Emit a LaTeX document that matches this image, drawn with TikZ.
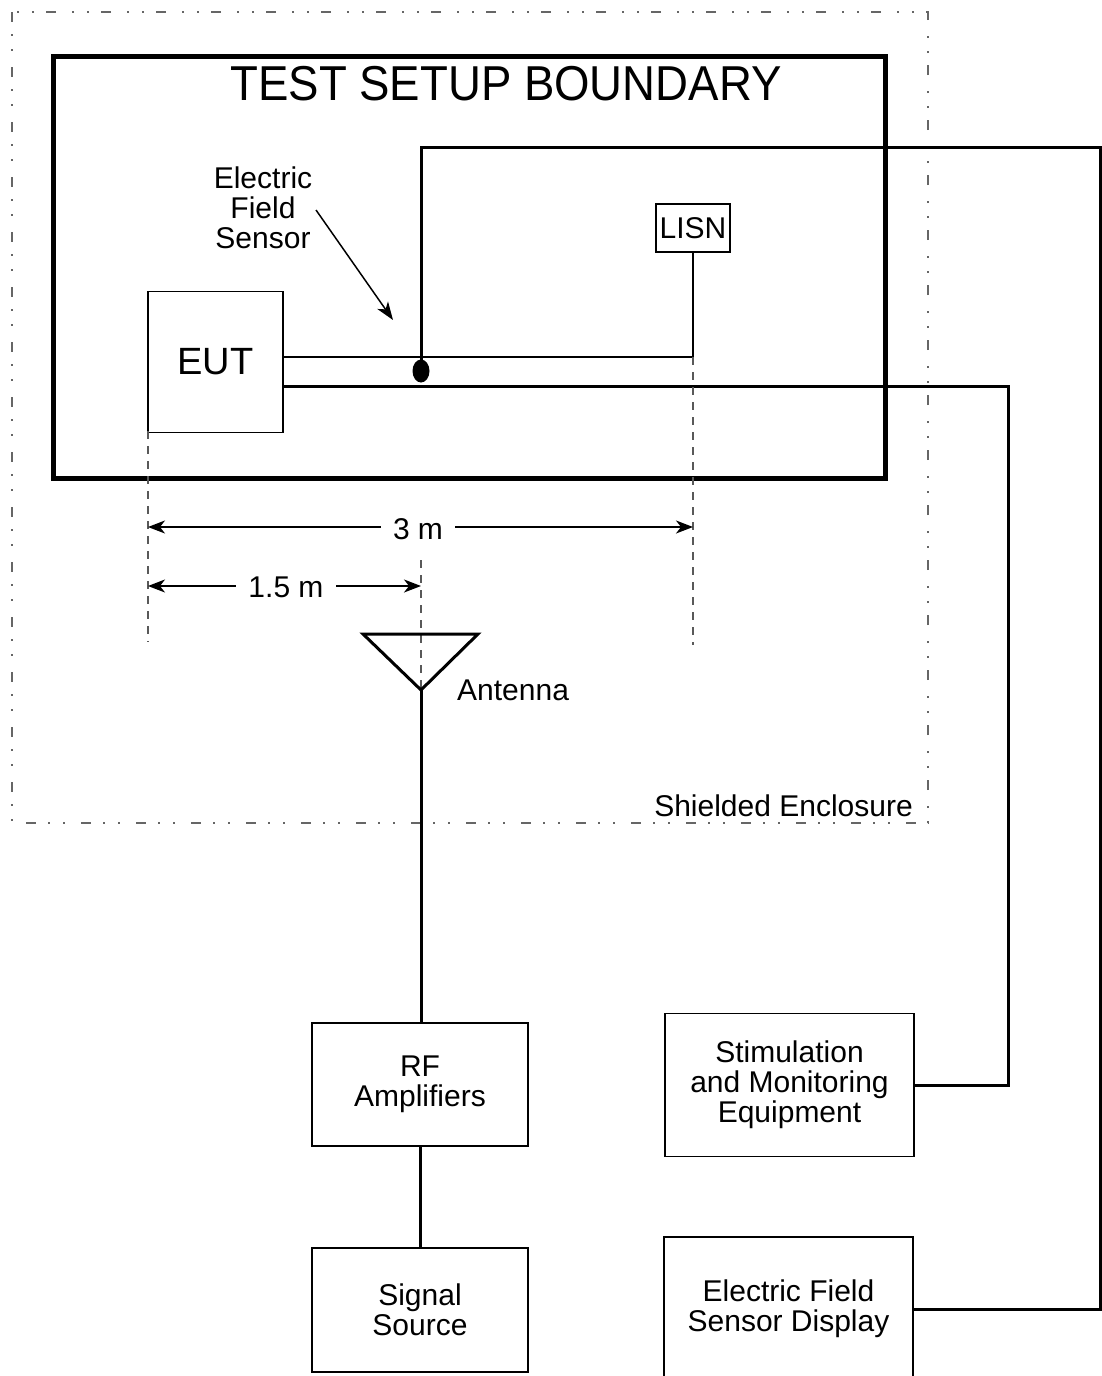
\documentclass[tikz,border=0pt]{standalone}
\usepackage{fontspec}
\setmainfont{Liberation Sans}
\usetikzlibrary{arrows.meta,shapes.geometric}
\begin{document}
\begin{tikzpicture}[x=1pt,y=-1pt,
  txt/.style={font=\fontsize{30}{30}\selectfont, align=center, inner sep=0pt},
  box/.style={txt, draw, line width=1.5pt, minimum width=#1, inner sep=0pt},
  cable/.style={line width=3pt},
  thincable/.style={line width=2pt},
  guide/.style={draw=black!65, line width=1.5pt, dash pattern=on 8pt off 7pt},
  dim/.style={line width=1.3pt, {Stealth[length=17pt,width=13pt,inset=5pt]}-{Stealth[length=17pt,width=13pt,inset=5pt]}},
  dimlbl/.style={txt, fill=white, inner xsep=12pt, inner ysep=3pt}
]
\useasboundingbox (0,0) rectangle (1101,1376);
% shielded enclosure
\draw[black!60, line width=1.5pt, dash pattern=on 10pt off 12pt on 2pt off 13pt on 2pt off 16pt] (12,12) rectangle (928,823);
\node[txt, anchor=base east] (encl) at (913,816) {Shielded Enclosure};
% test setup boundary
\draw[line width=5pt] (53,56) rectangle (885,478);
\node[inner sep=0pt, anchor=base, font=\fontsize{49}{49}\selectfont] (title) at (506,100) {\scalebox{0.93}[1]{TEST SETUP BOUNDARY}};
% boxes
\node[box=135pt, minimum height=141pt, font=\fontsize{38}{38}\selectfont] (EUT) at (215.5,362) {EUT};
\node[box=74pt, minimum height=48pt, line width=1.3pt] (LISN) at (693,228) {LISN};
\node[box=216pt, minimum height=123pt] (RF) at (420,1084.5) {RF\\Amplifiers};
\node[box=216pt, minimum height=124pt] (Sig) at (420,1310) {Signal\\Source};
\node[box=249pt, minimum height=143pt] (Stim) at (789.5,1085) {Stimulation\\and Monitoring\\Equipment};
\node[box=249pt, minimum height=144pt] (Disp) at (788.5,1309) {Electric Field\\Sensor Display};
% sensor
\node[ellipse, fill=black, minimum width=17pt, minimum height=23pt, inner sep=0pt] (sensor) at (421,371) {};
\node[txt] (sensorlbl) at (263,208) {Electric\\Field\\Sensor};
\coordinate (arrS) at (316,210);
\coordinate (arrE) at (393,320);
\draw[line width=1.5pt, -{Stealth[length=18pt,width=13pt,inset=5pt]}] (arrS) -- (arrE);
% cables
\coordinate (j1) at (693,357);
\draw[thincable] (EUT.east |- j1) -- (j1) -- (LISN.south);
\coordinate (c1) at (1008,386);
\draw[cable] (EUT.east |- c1) -- (c1) |- (Stim.east);
\coordinate (c2) at (1100,147);
\draw[cable] (sensor.center) |- (c2) |- (Disp.east);
% guides
\coordinate (g1a) at (148,431); \coordinate (g1b) at (148,642);
\coordinate (g2a) at (693,357); \coordinate (g2b) at (693,645);
\coordinate (g3a) at (421,560); \coordinate (g3b) at (421,690);
\draw[guide] (g1a) -- (g1b);
\draw[guide] (g2a) -- (g2b);
\draw[guide] (g3a) -- (g3b);
% dimensions
\coordinate (d1a) at (148,527); \coordinate (d1b) at (693,527);
\draw[dim] (d1a) -- (d1b);
\node[dimlbl] (d1) at (418,529) {3 m};
\coordinate (d2a) at (148,586); \coordinate (d2b) at (421,586);
\draw[dim] (d2a) -- (d2b);
\node[dimlbl] (d2) at (286,587) {1.5 m};
% antenna
\coordinate (antL) at (363,634);
\coordinate (antR) at (478,634);
\coordinate (ant) at (421,690);
\draw[line width=3pt, line join=miter] (antL) -- (antR) -- (ant) -- cycle;
\node[txt, anchor=base west] (antlbl) at (457,700) {Antenna};
\draw[cable] (ant) -- (ant |- RF.north);
\draw[cable] (RF.south) -- (Sig.north);
\end{tikzpicture}
\end{document}
